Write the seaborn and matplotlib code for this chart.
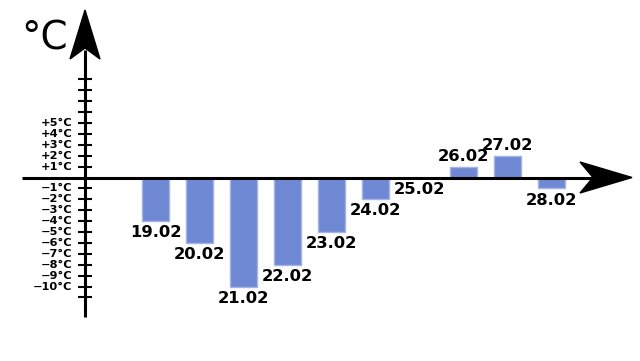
import matplotlib
matplotlib.use("Agg")
import matplotlib.pyplot as plt
import seaborn as sns
import pandas as pd
from matplotlib.patches import Polygon

# ---- data ----
dates = ["19.02", "20.02", "21.02", "22.02", "23.02", "24.02", "25.02", "26.02", "27.02", "28.02"]
temps = [-4, -6, -10, -8, -5, -2, 0, 1, 2, -1]
pos_ticks = [1, 2, 3, 4, 5, 6, 7, 8, 9]
neg_ticks = [-1, -2, -3, -4, -5, -6, -7, -8, -9, -10, -11]
pos_labels = ["+1°C", "+2°C", "+3°C", "+4°C", "+5°C"]
neg_labels = ["−1°C", "−2°C", "−3°C", "−4°C", "−5°C", "−6°C", "−7°C", "−8°C", "−9°C", "−10°C"]
unit_label = "°C"

sns.set_style("white")
plt.rcParams['font.family'] = ['DejaVu Sans']
plt.rcParams['text.color'] = 'black'

W, H, DPI = 640, 361, 100
fig = plt.figure(figsize=(W / DPI, H / DPI), dpi=DPI)
ax = fig.add_axes([0, 0, 1, 1])

# pixel <-> data helpers (layout only)
X0, SX = 155.5, 44.0
Y0, SY = 177.5, 10.9
def dx(px): return (px - X0) / SX
def dy(py): return (Y0 - py) / SY

df = pd.DataFrame({"date": dates, "temp": temps})
sns.barplot(data=df, x="date", y="temp", order=dates, color="#6f88d4",
            saturation=1, width=27 / SX, edgecolor="#a3b4e8", linewidth=1,
            ax=ax, zorder=2)

ax.set_xlim(dx(0), dx(W))
ax.set_ylim(dy(H), dy(0))
ax.axis("off")

# axes lines
ax.plot([dx(22), dx(600)], [0, 0], color="black", lw=2.2, zorder=3, solid_capstyle="butt")
ax.plot([dx(85), dx(85)], [dy(317), dy(50)], color="black", lw=2.2, zorder=3, solid_capstyle="butt")

# arrow heads
xa = Polygon([(dx(632), dy(177.5)), (dx(580), dy(162)), (dx(593), dy(177.5)), (dx(580), dy(193))],
             closed=True, color="black", zorder=4)
ya = Polygon([(dx(85), dy(10)), (dx(70), dy(59)), (dx(85), dy(48)), (dx(100), dy(59))],
             closed=True, color="black", zorder=4)
ax.add_patch(xa)
ax.add_patch(ya)

# ticks
for t in pos_ticks + neg_ticks:
    ax.plot([dx(78), dx(92)], [t, t], color="black", lw=1.5, zorder=3, solid_capstyle="butt")

for i, lab in enumerate(pos_labels):
    ax.text(dx(72), pos_ticks[i], lab, ha="right", va="center", fontsize=8.2,
            fontweight="bold", color="black")
for i, lab in enumerate(neg_labels):
    ax.text(dx(72), neg_ticks[i], lab, ha="right", va="center", fontsize=8.2,
            fontweight="bold", color="black")

ax.text(dx(21), dy(50), unit_label, ha="left", va="baseline", fontsize=28, color="black")

# bar labels
for i, (d, v) in enumerate(zip(dates, temps)):
    if v > 0:
        ax.annotate(d, (i, v), xytext=(0, 2), textcoords="offset points",
                    ha="center", va="bottom", fontsize=11.8, fontweight="bold", color="black")
    else:
        ax.annotate(d, (i, v), xytext=(0, -3), textcoords="offset points",
                    ha="center", va="top", fontsize=11.8, fontweight="bold", color="black")

fig.savefig("out.png", dpi=DPI)
